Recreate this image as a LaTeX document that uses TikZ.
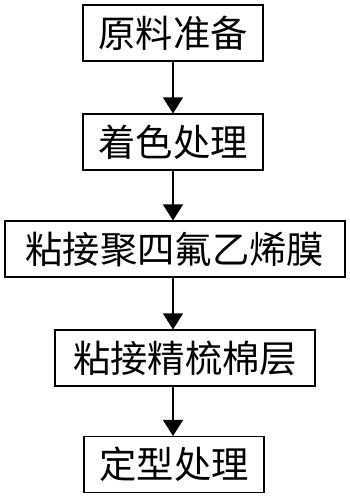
\documentclass[tikz,border=0pt]{standalone}
\usepackage{fontspec}
\newfontfamily\cjk{Noto Sans CJK SC}
\usetikzlibrary{arrows.meta}
\tikzset{
  stepbox/.style={draw=black, line width=0.8pt, inner sep=0pt, minimum height=42pt,
    font=\cjk\fontsize{28}{30}\selectfont, text=black},
  flow/.style={draw=black, line width=0.8pt, -{Triangle[width=15pt,length=12pt]}}
}
\begin{document}
\begin{tikzpicture}[x=0.75pt,y=-0.75pt]
\useasboundingbox (0,0) rectangle (350,500);
\node[stepbox, minimum width=135pt] (b1) at (173,33) {原料准备};
\node[stepbox, minimum width=135pt] (b2) at (173,142) {着色处理};
\node[stepbox, minimum width=255pt] (b3) at (175,249) {粘接聚四氟乙烯膜};
\node[stepbox, minimum width=195pt] (b4) at (185,358) {粘接精梳棉层};
\node[stepbox, minimum width=135pt] (b5) at (174,464.5) {定型处理};
\draw[flow] (b1.south) -- (b2.north);
\draw[flow] (b2.south) -- (b3.north -| b2.south);
\draw[flow] (b3.south -| b2.south) -- (b4.north -| b2.south);
\draw[flow] (b4.south -| b2.south) -- (b5.north -| b2.south);
\end{tikzpicture}
\end{document}
